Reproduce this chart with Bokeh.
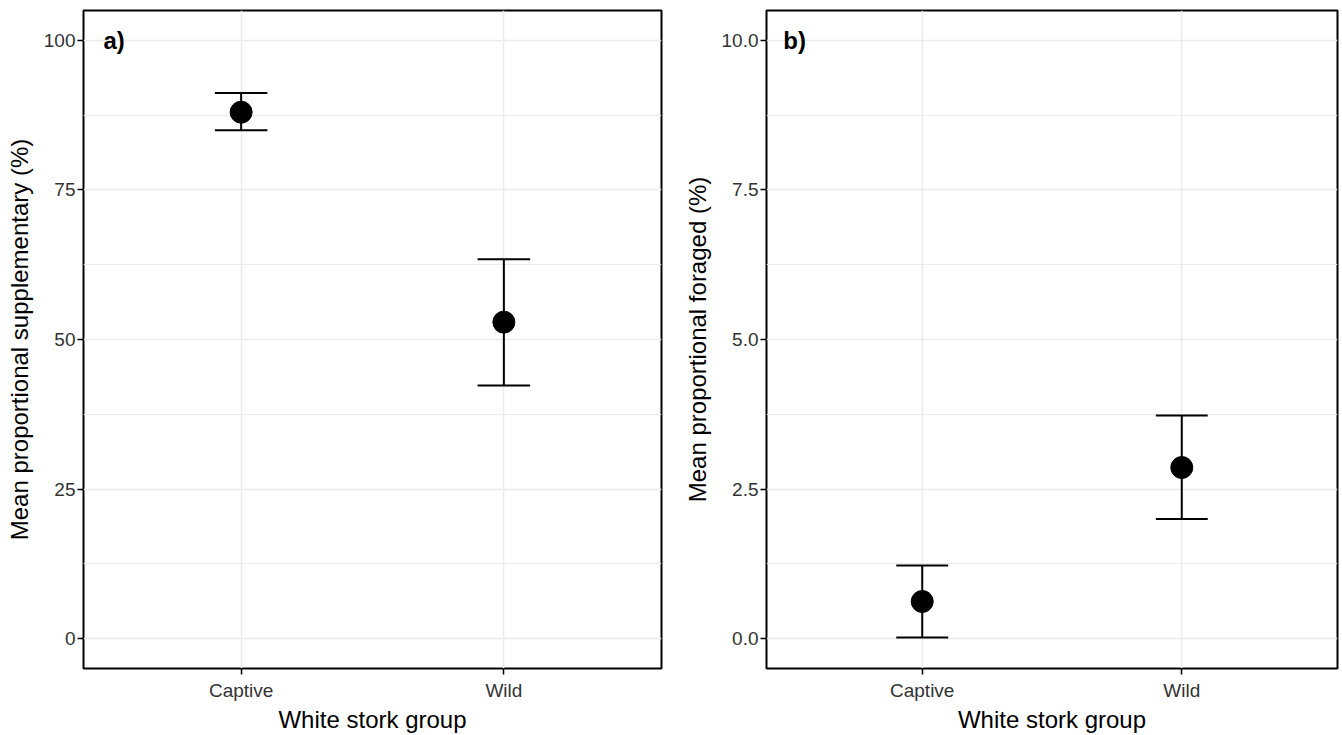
from bokeh.plotting import figure
from bokeh.layouts import row
from bokeh.models import FixedTicker, Label, Range1d, ColumnDataSource
from bokeh.embed import file_html
from bokeh.resources import INLINE

# ---- data ----
groups = ["Captive", "Wild"]

supp_mean = [88.0, 52.9]
supp_low = [85.0, 42.3]
supp_high = [91.2, 63.4]

forag_mean = [0.62, 2.86]
forag_low = [0.02, 2.00]
forag_high = [1.22, 3.73]

supp_ticks = [0, 25, 50, 75, 100]
supp_tick_labels = ["0", "25", "50", "75", "100"]
forag_ticks = [0.0, 2.5, 5.0, 7.5, 10.0]
forag_tick_labels = ["0.0", "2.5", "5.0", "7.5", "10.0"]

FONT = "Liberation Sans"
GRID = "#EBEBEB"
H = 735


def make_panel(mean, low, high, ticks, tick_labels, ylabel, tag, tag_x,
               width, mb_left, mb_right):
    xs = [i + 1 for i in range(len(groups))]
    span = ticks[-1] - ticks[0]
    yr = Range1d(ticks[0] - 0.05 * span, ticks[-1] + 0.05 * span)
    xr = Range1d(0.4, len(groups) + 0.6)
    p = figure(width=width, height=H, x_range=xr, y_range=yr,
               output_backend="svg", toolbar_location=None,
               min_border_left=mb_left, min_border_right=mb_right,
               min_border_top=10, min_border_bottom=67)
    p.background_fill_color = "white"
    p.border_fill_color = "white"
    p.outline_line_color = "black"
    p.outline_line_width = 2

    minor = [(a + b) / 2 for a, b in zip(ticks[:-1], ticks[1:])]
    p.yaxis.ticker = FixedTicker(ticks=ticks, minor_ticks=minor)
    p.yaxis.major_label_overrides = {t: l for t, l in zip(ticks, tick_labels)}
    p.xaxis.ticker = FixedTicker(ticks=xs, minor_ticks=[])
    p.xaxis.major_label_overrides = {x: g for x, g in zip(xs, groups)}

    for ax in (p.xaxis, p.yaxis):
        ax.axis_line_color = None
        ax.major_tick_line_color = "black"
        ax.major_tick_line_width = 1.5
        ax.major_tick_out = 6
        ax.major_tick_in = 0
        ax.minor_tick_line_color = None
        ax.major_label_text_font = FONT
        ax.major_label_text_font_size = "19px"
        ax.major_label_text_color = "#333333"
        ax.axis_label_text_font = FONT
        ax.axis_label_text_font_size = "24px"
        ax.axis_label_text_font_style = "normal"
        ax.axis_label_text_color = "black"
    p.yaxis.major_label_standoff = 2
    p.yaxis.axis_label_standoff = 8
    p.xaxis.major_label_standoff = 5
    p.xaxis.axis_label_standoff = 2
    p.xaxis.axis_label = "White stork group"
    p.yaxis.axis_label = ylabel

    p.xgrid.grid_line_color = GRID
    p.xgrid.grid_line_width = 1.5
    p.ygrid.grid_line_color = GRID
    p.ygrid.grid_line_width = 1.5
    p.ygrid.minor_grid_line_color = GRID
    p.ygrid.minor_grid_line_width = 1

    src = ColumnDataSource(dict(
        x=xs, mean=mean, low=low, high=high,
        x0=[x - 0.1 for x in xs], x1=[x + 0.1 for x in xs]))
    p.segment(x0="x", y0="low", x1="x", y1="high", source=src,
              line_color="black", line_width=2)
    p.segment(x0="x0", y0="high", x1="x1", y1="high", source=src,
              line_color="black", line_width=2)
    p.segment(x0="x0", y0="low", x1="x1", y1="low", source=src,
              line_color="black", line_width=2)
    p.scatter(x="x", y="mean", source=src, size=22, marker="circle",
              fill_color="black", line_color="black")

    p.add_layout(Label(x=tag_x, y=ticks[-1], text=tag, text_font=FONT,
                       text_font_size="24px", text_font_style="bold",
                       text_baseline="middle", text_align="left",
                       text_color="black"))
    return p


p1 = make_panel(supp_mean, supp_low, supp_high, supp_ticks, supp_tick_labels,
                "Mean proportional supplementary (%)", "a)", 0.476, 676, 83, 15)
p2 = make_panel(forag_mean, forag_low, forag_high, forag_ticks, forag_tick_labels,
                "Mean proportional foraged (%)", "b)", 0.465, 666, 90, 5)

layout = row(p1, p2)
open("out.html", "w").write(file_html(layout, INLINE))
